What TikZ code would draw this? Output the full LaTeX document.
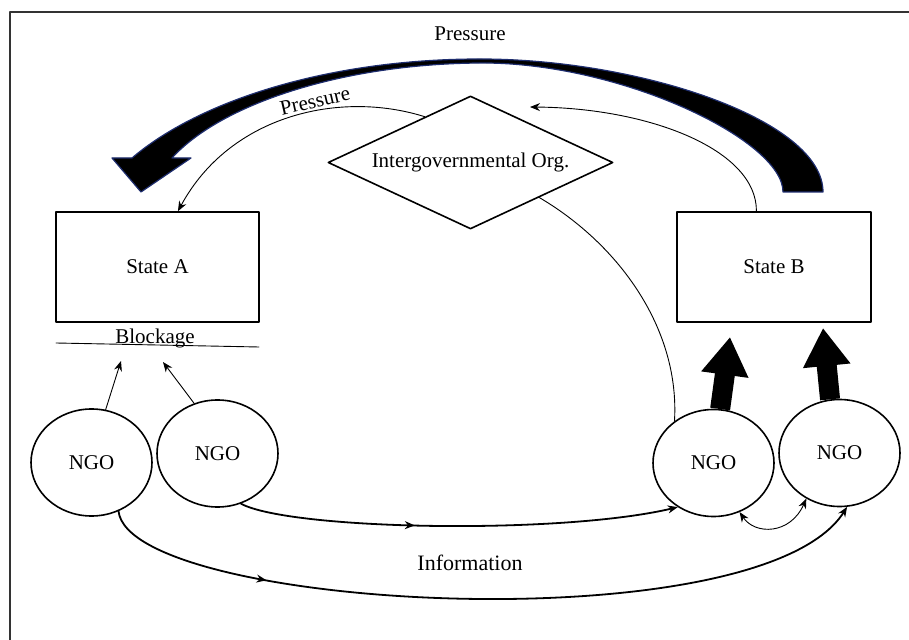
\documentclass[tikz,border=0pt]{standalone}
\usepackage{fontspec}
\setmainfont{Liberation Serif}
\usetikzlibrary{arrows.meta,shapes.geometric,decorations.markings,calc}
\definecolor{navyedge}{RGB}{30,45,110}
\begin{document}
\begin{tikzpicture}[x=0.5pt,y=-0.5pt,>={Stealth[length=5pt,width=4pt]},line join=round,line cap=round,
    every node/.style={font=\fontsize{10.5}{12}\selectfont},
    state/.style={draw,line width=0.8pt,minimum height=55pt,inner sep=0pt},
    ngo/.style={draw,ellipse,line width=0.8pt,minimum width=60.5pt,minimum height=53.5pt,inner sep=0pt},
    igo/.style={draw,diamond,aspect=2.14,line width=0.8pt,minimum width=142.5pt,minimum height=66.5pt,inner sep=0pt},
    thinline/.style={line width=0.45pt},
    infoline/.style={line width=0.9pt},
    midarrow/.style={decoration={markings,mark=at position #1 with {\arrow{>}}},postaction=decorate},
    thickarrow/.style={line width=10pt,line cap=butt,-{Triangle[length=19pt,width=22.5pt]}}]
    \useasboundingbox (0,0) rectangle (909,640);
    \draw[line width=0.8pt,black!80] (10,640)--(10,12)--(909,12);
    % boxes and circles
    \node[state,minimum width=101.5pt] (sA) at (157.5,267) {State A};
    \node[state,minimum width=97pt] (sB) at (774,267) {State B};
    \node[igo] (igo) at (470.5,162.5) {Intergovernmental Org.};
    \node[ngo] (n1) at (91.5,462.5) {NGO};
    \node[ngo] (n2) at (217.5,453.5) {NGO};
    \node[ngo] (n3) at (713.5,463) {NGO};
    \node[ngo] (n4) at (839.5,453) {NGO};
    % labels
    \node (ptop) at (470,34) {Pressure};
    \node[rotate=13] (pside) at (315,101) {Pressure};
    \node (blk) at (155,338) {Blockage};
    \node[font=\fontsize{11}{13}\selectfont] (info) at (470,563) {Information};
    \draw[thinline] (56,343)--(259,347);
    \coordinate (b1) at (121,361);
    \coordinate (b2) at (163,362);
    \coordinate (igotip) at (530,107);
    \coordinate (tipB1) at (730,337);
    \coordinate (tipB2) at (823,328);
    % big pressure arrow
    \filldraw[fill=black,draw=navyedge,line width=0.6pt]
        (823,192) .. controls (823,120) and (640,59) .. (480,59)
        .. controls (330,59) and (200,100) .. (132,158)
        -- (112,158) -- (141,192) -- (191,158) -- (172,158)
        .. controls (220,105) and (340,64) .. (480,63)
        .. controls (620,62) and (783,140) .. (783,192) -- cycle;
    % thin connectors
    \draw[thinline,->] (igo.135) .. controls (340,90) and (230,115) .. ($(sA.north west)!0.6!(sA.north east)$);
    \draw[thinline,->] ($(sB.north west)!0.41!(sB.north east)$) .. controls (757,150) and (650,108) .. (igotip);
    \draw[thinline] (igo.-27) .. controls (620,245) and (680,330) .. (n3.133);
    \draw[thinline,->] (n1.75) -- (b1);
    \draw[thinline,->] (n2.115) -- (b2);
    \draw[thinline,<->] (n3.-62) .. controls (755,535) and (790,535) .. (n4.-126);
    % information flows
    \draw[infoline,->,midarrow=0.4] (n2.-65) .. controls (290,530) and (560,535) .. (n3.231);
    \draw[infoline,->,midarrow=0.22] (n1.-61) .. controls (130,610) and (760,645) .. (n4.-82);
    % pressure on State B
    \draw[thickarrow] (n3.83) -- (tipB1);
    \draw[thickarrow] (n4.100) -- (tipB2);
\end{tikzpicture}
\end{document}
